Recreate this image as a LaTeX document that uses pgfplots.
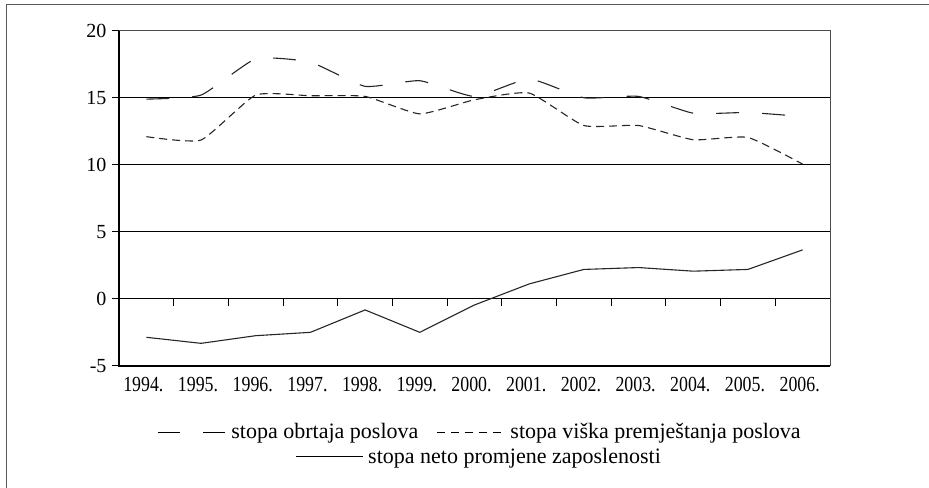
\documentclass[border=0pt]{standalone}
\usepackage{fontspec}
\setmainfont{Liberation Serif}
\usepackage{graphicx}
\usepackage{pgfplots}
\usepackage{pgfplotstable}
\pgfplotsset{compat=1.18}
\newcommand\sx[1]{\scalebox{0.83}[1]{#1}}

\pgfplotstableread{
x obrt visak neto
0 14.9 12.1 -2.86
1 15.2 11.85 -3.31
2 17.9 15.2 -2.74
3 17.65 15.15 -2.49
4 15.85 15.1 -0.82
5 16.27 13.8 -2.49
6 15.1 14.85 -0.45
7 16.4 15.35 1.12
8 15.0 12.93 2.2
9 15.1 12.93 2.34
10 13.85 11.87 2.07
11 13.9 12.04 2.2
12 13.6 10.05 3.66
}\data

\begin{document}
\begin{tikzpicture}
\path[use as bounding box] (0,0) rectangle (929bp,488bp);
\draw[gray!70!black, line width=1bp] (6.5bp,0) -- (6.5bp,483bp) -- (929bp,483bp);
\begin{axis}[
  at={(119bp,122bp)}, anchor=south west,
  scale only axis, width=711bp, height=335.3bp,
  xmin=-0.5, xmax=12.5, ymin=-5, ymax=20,
  xtick={0,...,12},
  xticklabels={\sx{1994.},\sx{1995.},\sx{1996.},\sx{1997.},\sx{1998.},\sx{1999.},\sx{2000.},\sx{2001.},\sx{2002.},\sx{2003.},\sx{2004.},\sx{2005.},\sx{2006.}},
  ytick={-5,0,5,10,15,20},
  yticklabels={-5,0,5,10,15,20},
  xtick pos=bottom, ytick pos=left,
  tick align=outside,
  major tick length=7bp,
  x tick style={draw=none},
  y tick style={black, line width=1bp},
  extra y ticks={0,5,10,15},
  extra y tick labels={},
  extra y tick style={ymajorgrids=true, major tick length=0pt},
  grid style={black, line width=1bp},
  axis line style={draw=gray!60!black, line width=1bp},
  xticklabel style={font=\fontsize{21.5bp}{24bp}\selectfont, xshift=-3bp, inner sep=0pt, yshift=-4bp},
  yticklabel style={font=\fontsize{20bp}{22bp}\selectfont, xshift=-2bp},
  clip=false,
]
\draw[black, line width=1.3bp] (rel axis cs:0,1) -- (rel axis cs:0,0) -- (rel axis cs:1,0);
\pgfplotsinvokeforeach{0.5,1.5,...,11.5}{
  \draw[black, line width=1bp] (axis cs:#1,0) -- (axis cs:#1,-0.52);
}
\addplot[black!85, line width=1.1bp, dash pattern=on 23bp off 23bp, smooth, tension=0.3] table[x=x,y=obrt]{\data};
\addplot[black!85, line width=1.1bp, dash pattern=on 8bp off 5bp, smooth, tension=0.3] table[x=x,y=visak]{\data};
\addplot[black!85, line width=1.1bp] table[x=x,y=neto]{\data};
\end{axis}
\node[anchor=base, inner sep=0pt, font=\fontsize{22bp}{24bp}\selectfont] at (479bp,49bp)
 {\tikz[baseline=-0.3em]\draw[line width=1.1bp, dash pattern=on 22bp off 23bp] (0,0)--(67bp,0);\hspace{6bp}stopa obrtaja poslova\hspace{18bp}\tikz[baseline=-0.3em]\draw[line width=1.1bp, dash pattern=on 8bp off 6bp] (0,0)--(66bp,0);\hspace{7bp}stopa viška premještanja poslova};
\node[anchor=base, inner sep=0pt, font=\fontsize{22bp}{24bp}\selectfont] at (478bp,25bp)
 {\tikz[baseline=-0.3em]\draw[line width=1.1bp] (0,0)--(67bp,0);\hspace{5bp}stopa neto promjene zaposlenosti};
\end{tikzpicture}
\end{document}
